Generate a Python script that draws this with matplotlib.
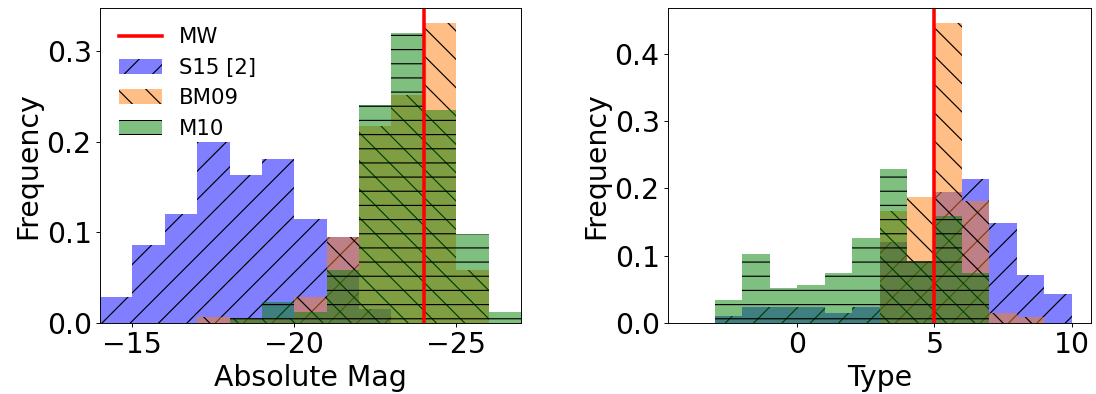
import numpy as np
import matplotlib
matplotlib.use('Agg')
import matplotlib.pyplot as plt

# absolute magnitude histograms, 1 mag bins from -27 to -14
mag_edges = np.arange(-27, -13)
mag_s15 = [0, 0, 0, 0, 0.015, 0.095, 0.115, 0.181, 0.163, 0.200, 0.120, 0.086, 0.029]
mag_bm09 = [0, 0.058, 0.331, 0.252, 0.217, 0.095, 0.029, 0.005, 0.005, 0.007, 0, 0, 0]
mag_m10 = [0.012, 0.098, 0.235, 0.320, 0.240, 0.058, 0.012, 0.023, 0.006, 0, 0, 0, 0]

# morphological type histograms, unit bins from -3 to 10
type_edges = np.arange(-3, 11)
type_s15 = [0.010, 0.024, 0.024, 0.024, 0.015, 0.024, 0.120, 0.092, 0.195, 0.214, 0.148, 0.072, 0.043]
type_bm09 = [0, 0, 0, 0, 0, 0, 0.166, 0.187, 0.446, 0.181, 0.015, 0.009, 0]
type_m10 = [0.034, 0.103, 0.052, 0.057, 0.074, 0.126, 0.229, 0.092, 0.159, 0.074, 0, 0, 0]

mw_mag = -24
mw_type = 5

labels = ['S15 [2]', 'BM09', 'M10']
colors = ['blue', 'C1', 'green']
hatches = ['/', '\\', '-']

DPI = 85
fs = 24
fig = plt.figure(figsize=(1096 / DPI, 394 / DPI), dpi=DPI)
ax1 = fig.add_axes([100 / 1096, 71 / 394, 421 / 1096, 315 / 394])
ax2 = fig.add_axes([668 / 1096, 71 / 394, 423 / 1096, 315 / 394])


def draw_hists(ax, edges, series):
    centres = 0.5 * (edges[:-1] + edges[1:])
    for vals, lab, c, h in zip(series, labels, colors, hatches):
        ax.hist(centres, bins=edges, weights=vals, color=c, alpha=0.5,
                hatch=h, label=lab)


draw_hists(ax1, mag_edges, [mag_s15, mag_bm09, mag_m10])
ax1.axvline(mw_mag, color='red', lw=3, label='MW')
ax1.set_xlim(-14, -27)
ax1.set_xticks([-15, -20, -25])
ax1.set_yticks([0.0, 0.1, 0.2, 0.3])
ax1.set_xlabel('Absolute Mag', fontsize=fs)
ax1.set_ylabel('Frequency', fontsize=fs)
handles, labs = ax1.get_legend_handles_labels()
order = [3, 0, 1, 2]
ax1.legend([handles[i] for i in order], [labs[i] for i in order],
           loc='upper left', frameon=False, fontsize=18)

draw_hists(ax2, type_edges, [type_s15, type_bm09, type_m10])
ax2.axvline(mw_type, color='red', lw=3, label='MW')
ax2.set_xlim(-4.7, 10.7)
ax2.set_xticks([0, 5, 10])
ax2.set_yticks([0.0, 0.1, 0.2, 0.3, 0.4])
ax2.set_xlabel('Type', fontsize=fs)
ax2.set_ylabel('Frequency', fontsize=fs)

for ax in (ax1, ax2):
    ax.tick_params(labelsize=fs)

fig.savefig('out.png', dpi=DPI)
